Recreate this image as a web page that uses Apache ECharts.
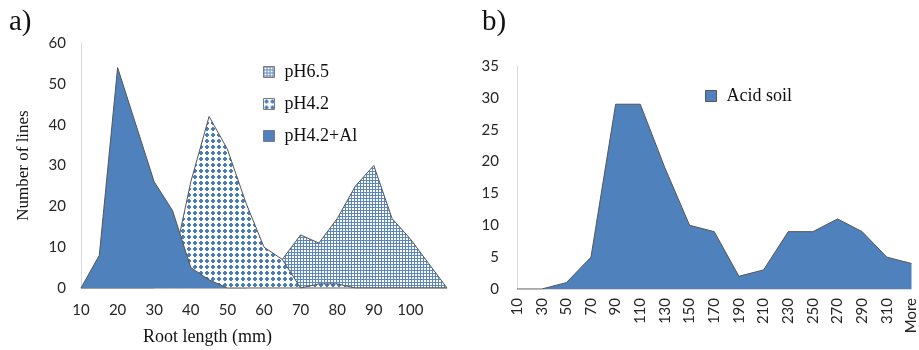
<!DOCTYPE html>
<html>
<head>
<meta charset="utf-8">
<script src="https://cdn.jsdelivr.net/npm/echarts@6/dist/echarts.min.js"></script>
<style>
html,body{margin:0;padding:0;background:#fff;}
#c{width:919px;height:350px;}
</style>
</head>
<body>
<div id="c"></div>
<script>
// ---- Data ----
const rootLengthCats = ['10','15','20','25','30','35','40','45','50','55','60','65','70','75','80','85','90','95','100','105','110'];
const pH65 = [0,0,0,0,0,0,0,0,0,0,2,7,13,11,17,25,30,17,12,6,0];
const pH42 = [0,0,0,0,0,5,26,42,34,21,10,7,0,1,1,0,0,0,0,0,0];
const pH42Al = [0,8,54,40,26,19,5,2,0,0,0,0,0,0,0,0,0,0,0,0,0];
const leftYTicks = [0,10,20,30,40,50,60];

const acidCats = ['10','30','50','70','90','110','130','150','170','190','210','230','250','270','290','310','More'];
const acidSoil = [0,0,1,5,29,29,19,10,9,2,3,9,9,11,9,5,4];
const rightYTicks = [0,5,10,15,20,25,30,35];

// ---- Patterns ----
const BLUE = '#4f81bd';
function gridPattern(){
  const c = document.createElement('canvas'); c.width = 3; c.height = 3;
  const g = c.getContext('2d');
  g.fillStyle = '#ffffff'; g.fillRect(0,0,3,3);
  g.fillStyle = '#5b87c0'; g.fillRect(0,0,3,1); g.fillRect(0,0,1,3);
  return {image: c, repeat: 'repeat'};
}
function dotPattern(){
  const c = document.createElement('canvas'); c.width = 6; c.height = 6;
  const g = c.getContext('2d');
  g.fillStyle = '#ffffff'; g.fillRect(0,0,6,6);
  g.fillStyle = '#4a7dbc';
  g.fillRect(1,2,4,2); g.fillRect(2,1,2,4);
  return {image: c, repeat: 'repeat'};
}

const tickFont = {fontFamily: 'Lato', fontSize: 15, color: '#262626'};
const serif = 'Liberation Serif';
const outline = {color: '#555555', width: 1};
const legendText = {fontFamily: serif, fontSize: 18, color: '#111', lineHeight: 18, padding: [0,0,0,5]};

const chart = echarts.init(document.getElementById('c'), null, {renderer: 'canvas'});
chart.setOption({
  animation: false,
  backgroundColor: '#ffffff',
  grid: [
    {left: 81, top: 43, width: 366, height: 245},
    {left: 517, top: 66, width: 395, height: 223}
  ],
  legend: [
    {
      data: ['pH6.5','pH4.2','pH4.2+Al'],
      orient: 'vertical', left: 258, top: 58,
      itemWidth: 11, itemHeight: 11, itemGap: 14,
      icon: 'rect',
      itemStyle: {borderColor: '#7a7a7a', borderWidth: 1},
      textStyle: legendText
    },
    {
      data: ['Acid soil'],
      orient: 'vertical', left: 700, top: 82,
      itemWidth: 11, itemHeight: 11,
      icon: 'rect',
      itemStyle: {borderColor: '#555', borderWidth: 1},
      textStyle: legendText
    }
  ],
  xAxis: [
    {
      type: 'category', gridIndex: 0, data: rootLengthCats, boundaryGap: false,
      axisLine: {show: true, lineStyle: {color: '#d9d9d9'}},
      axisTick: {show: false},
      axisLabel: Object.assign({interval: 1, margin: 15,
        formatter: v => (v === '110' ? '' : v)}, tickFont),
      splitLine: {show: false}
    },
    {
      type: 'category', gridIndex: 1, data: acidCats, boundaryGap: false,
      axisLine: {show: true, lineStyle: {color: '#d9d9d9'}},
      axisTick: {show: false},
      axisLabel: Object.assign({interval: 0, rotate: 90, margin: 9}, tickFont),
      splitLine: {show: false}
    }
  ],
  yAxis: [
    {
      type: 'value', gridIndex: 0, min: leftYTicks[0], max: leftYTicks[leftYTicks.length-1], interval: 10,
      name: 'Number of lines', nameLocation: 'middle', nameGap: 49,
      nameTextStyle: {fontFamily: serif, fontSize: 17, color: '#111'},
      axisLine: {show: true, lineStyle: {color: '#d9d9d9'}},
      axisTick: {show: false},
      axisLabel: Object.assign({margin: 15}, tickFont),
      splitLine: {show: false}
    },
    {
      type: 'value', gridIndex: 1, min: rightYTicks[0], max: rightYTicks[rightYTicks.length-1], interval: 5,
      axisLine: {show: true, lineStyle: {color: '#d9d9d9'}},
      axisTick: {show: false},
      axisLabel: Object.assign({margin: 18}, tickFont),
      splitLine: {show: false}
    }
  ],
  series: [
    {name: 'pH6.5', type: 'line', xAxisIndex: 0, yAxisIndex: 0, data: pH65, z: 2,
      symbol: 'none', lineStyle: outline, itemStyle: {color: gridPattern()},
      areaStyle: {color: gridPattern(), opacity: 1}},
    {name: 'pH4.2', type: 'line', xAxisIndex: 0, yAxisIndex: 0, data: pH42, z: 3,
      symbol: 'none', lineStyle: outline, itemStyle: {color: dotPattern()},
      areaStyle: {color: dotPattern(), opacity: 1}},
    {name: 'pH4.2+Al', type: 'line', xAxisIndex: 0, yAxisIndex: 0, data: pH42Al, z: 4,
      symbol: 'none', lineStyle: outline, itemStyle: {color: BLUE},
      areaStyle: {color: BLUE, opacity: 1}},
    {name: 'Acid soil', type: 'line', xAxisIndex: 1, yAxisIndex: 1, data: acidSoil, z: 2,
      symbol: 'none', lineStyle: outline, itemStyle: {color: BLUE},
      areaStyle: {color: BLUE, opacity: 1}}
  ],
  graphic: [
    {type: 'text', left: 9, top: 8, style: {text: 'a)', font: '29px "Liberation Serif"', fill: '#111'}},
    {type: 'text', left: 482, top: 8, style: {text: 'b)', font: '29px "Liberation Serif"', fill: '#111'}},
    {type: 'text', left: 143, top: 328, style: {text: 'Root length (mm)', font: '18px "Liberation Serif"', fill: '#111'}}
  ]
});
</script>
</body>
</html>
